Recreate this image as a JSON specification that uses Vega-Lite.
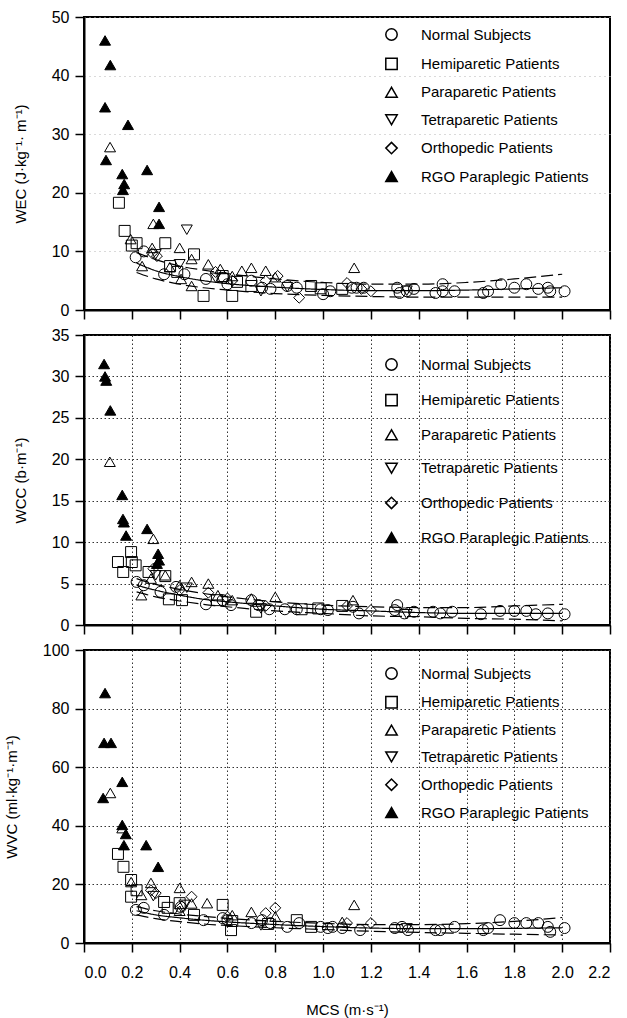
{
  "$schema": "https://vega.github.io/schema/vega-lite/v6.json",
  "background": "white",
  "padding": {"left": 3, "top": 8, "right": 0, "bottom": 0},
  "spacing": 25,
  "bounds": "flush",
  "config": {
    "font": "Liberation Sans",
    "view": {"stroke": "black", "strokeWidth": 2},
    "axis": {
      "domainColor": "black", "domainWidth": 2,
      "tickColor": "black", "tickWidth": 1.5, "tickSize": 9,
      "labelFont": "Liberation Sans", "labelFontSize": 16, "labelColor": "black", "labelPadding": 6,
      "titleFont": "Liberation Sans", "titleFontSize": 15, "titleFontWeight": "normal", "titleColor": "black", "titlePadding": 23
    },
    "legend": {
      "labelFont": "Liberation Sans", "labelFontSize": 15, "labelColor": "black", "labelLimit": 300
    }
  },
  "datasets": {
    "points": [
      {"p":"WEC","g":"R","x":0.088,"y":46},{"p":"WEC","g":"R","x":0.11,"y":41.8},{"p":"WEC","g":"R","x":0.088,"y":34.6},{"p":"WEC","g":"R","x":0.092,"y":25.6},{"p":"WEC","g":"R","x":0.184,"y":31.6},{"p":"WEC","g":"R","x":0.16,"y":23.2},{"p":"WEC","g":"R","x":0.168,"y":21.5},{"p":"WEC","g":"R","x":0.163,"y":20.5},{"p":"WEC","g":"R","x":0.264,"y":23.9},{"p":"WEC","g":"R","x":0.314,"y":17.6},{"p":"WEC","g":"R","x":0.314,"y":14.7},
      {"p":"WEC","g":"Pa","x":0.109,"y":27.8},{"p":"WEC","g":"Pa","x":0.29,"y":14.7},{"p":"WEC","g":"Pa","x":0.40,"y":10.6},{"p":"WEC","g":"Pa","x":1.13,"y":7.2},{"p":"WEC","g":"Pa","x":0.195,"y":12.1},{"p":"WEC","g":"Pa","x":0.285,"y":10.6},{"p":"WEC","g":"Pa","x":0.243,"y":7.5},{"p":"WEC","g":"Pa","x":0.359,"y":7.3},{"p":"WEC","g":"Pa","x":0.45,"y":8.7},{"p":"WEC","g":"Pa","x":0.52,"y":7.8},{"p":"WEC","g":"Pa","x":0.406,"y":5.3},{"p":"WEC","g":"Pa","x":0.45,"y":4.1},{"p":"WEC","g":"Pa","x":0.57,"y":7.0},{"p":"WEC","g":"Pa","x":0.66,"y":6.7},{"p":"WEC","g":"Pa","x":0.70,"y":7.2},{"p":"WEC","g":"Pa","x":0.76,"y":6.7},{"p":"WEC","g":"Pa","x":0.80,"y":5.6},{"p":"WEC","g":"Pa","x":0.62,"y":5.8},
      {"p":"WEC","g":"T","x":0.43,"y":13.7},{"p":"WEC","g":"T","x":0.40,"y":7.8},{"p":"WEC","g":"T","x":0.74,"y":3.2},{"p":"WEC","g":"T","x":0.30,"y":9.5},{"p":"WEC","g":"T","x":0.55,"y":5.5},{"p":"WEC","g":"T","x":0.85,"y":3.9},{"p":"WEC","g":"T","x":1.35,"y":3.3},
      {"p":"WEC","g":"H","x":0.146,"y":18.3},{"p":"WEC","g":"H","x":0.17,"y":13.5},{"p":"WEC","g":"H","x":0.22,"y":11.4},{"p":"WEC","g":"H","x":0.34,"y":11.4},{"p":"WEC","g":"H","x":0.46,"y":9.5},{"p":"WEC","g":"H","x":0.20,"y":11.0},{"p":"WEC","g":"H","x":0.50,"y":2.4},{"p":"WEC","g":"H","x":0.62,"y":2.4},{"p":"WEC","g":"H","x":0.36,"y":7.5},{"p":"WEC","g":"H","x":0.58,"y":5.8},{"p":"WEC","g":"H","x":0.70,"y":4.1},{"p":"WEC","g":"H","x":0.95,"y":4.1},{"p":"WEC","g":"H","x":0.99,"y":3.7},{"p":"WEC","g":"H","x":1.08,"y":3.6},{"p":"WEC","g":"H","x":0.39,"y":6.5},{"p":"WEC","g":"H","x":0.64,"y":4.8},
      {"p":"WEC","g":"N","x":0.216,"y":9.0},{"p":"WEC","g":"N","x":0.25,"y":10.0},{"p":"WEC","g":"N","x":0.335,"y":6.1},{"p":"WEC","g":"N","x":0.42,"y":6.1},{"p":"WEC","g":"N","x":0.51,"y":5.3},{"p":"WEC","g":"N","x":0.585,"y":5.5},{"p":"WEC","g":"N","x":0.60,"y":4.4},{"p":"WEC","g":"N","x":0.70,"y":5.0},{"p":"WEC","g":"N","x":0.745,"y":3.8},{"p":"WEC","g":"N","x":0.78,"y":3.6},{"p":"WEC","g":"N","x":0.85,"y":4.1},{"p":"WEC","g":"N","x":0.89,"y":3.8},{"p":"WEC","g":"N","x":1.0,"y":2.7},{"p":"WEC","g":"N","x":1.03,"y":3.2},{"p":"WEC","g":"N","x":1.12,"y":3.8},{"p":"WEC","g":"N","x":1.14,"y":3.8},{"p":"WEC","g":"N","x":1.17,"y":3.8},{"p":"WEC","g":"N","x":1.31,"y":3.8},{"p":"WEC","g":"N","x":1.32,"y":2.9},{"p":"WEC","g":"N","x":1.35,"y":3.2},{"p":"WEC","g":"N","x":1.38,"y":3.6},{"p":"WEC","g":"N","x":1.47,"y":2.9},{"p":"WEC","g":"N","x":1.50,"y":4.4},{"p":"WEC","g":"N","x":1.50,"y":3.2},{"p":"WEC","g":"N","x":1.55,"y":3.2},{"p":"WEC","g":"N","x":1.67,"y":2.9},{"p":"WEC","g":"N","x":1.69,"y":3.2},{"p":"WEC","g":"N","x":1.745,"y":4.4},{"p":"WEC","g":"N","x":1.80,"y":3.8},{"p":"WEC","g":"N","x":1.85,"y":4.4},{"p":"WEC","g":"N","x":1.90,"y":3.6},{"p":"WEC","g":"N","x":1.94,"y":3.8},{"p":"WEC","g":"N","x":1.95,"y":3.2},{"p":"WEC","g":"N","x":2.01,"y":3.2},
      {"p":"WEC","g":"O","x":0.285,"y":9.7},{"p":"WEC","g":"O","x":0.305,"y":9.2},{"p":"WEC","g":"O","x":0.76,"y":5.0},{"p":"WEC","g":"O","x":0.81,"y":5.8},{"p":"WEC","g":"O","x":0.90,"y":2.1},{"p":"WEC","g":"O","x":1.10,"y":4.6},{"p":"WEC","g":"O","x":1.20,"y":3.2},{"p":"WEC","g":"O","x":1.16,"y":3.6},{"p":"WEC","g":"O","x":0.55,"y":6.5},{"p":"WEC","g":"O","x":0.62,"y":5.0},

      {"p":"WCC","g":"R","x":0.084,"y":31.5},{"p":"WCC","g":"R","x":0.088,"y":30.0},{"p":"WCC","g":"R","x":0.093,"y":29.5},{"p":"WCC","g":"R","x":0.11,"y":25.9},{"p":"WCC","g":"R","x":0.16,"y":15.7},{"p":"WCC","g":"R","x":0.163,"y":12.8},{"p":"WCC","g":"R","x":0.167,"y":12.4},{"p":"WCC","g":"R","x":0.176,"y":10.8},{"p":"WCC","g":"R","x":0.264,"y":11.6},{"p":"WCC","g":"R","x":0.31,"y":8.6},{"p":"WCC","g":"R","x":0.314,"y":7.8},{"p":"WCC","g":"R","x":0.305,"y":7.4},
      {"p":"WCC","g":"Pa","x":0.108,"y":19.7},{"p":"WCC","g":"Pa","x":0.29,"y":10.4},{"p":"WCC","g":"Pa","x":0.24,"y":3.6},{"p":"WCC","g":"Pa","x":0.45,"y":5.2},{"p":"WCC","g":"Pa","x":0.52,"y":5.0},{"p":"WCC","g":"Pa","x":0.40,"y":4.8},{"p":"WCC","g":"Pa","x":0.80,"y":3.4},{"p":"WCC","g":"Pa","x":1.125,"y":3.0},{"p":"WCC","g":"Pa","x":0.62,"y":3.0},{"p":"WCC","g":"Pa","x":0.34,"y":6.0},{"p":"WCC","g":"Pa","x":0.28,"y":5.6},{"p":"WCC","g":"Pa","x":0.70,"y":3.2},{"p":"WCC","g":"Pa","x":0.56,"y":3.6},
      {"p":"WCC","g":"H","x":0.142,"y":7.6},{"p":"WCC","g":"H","x":0.164,"y":6.4},{"p":"WCC","g":"H","x":0.197,"y":8.8},{"p":"WCC","g":"H","x":0.216,"y":7.2},{"p":"WCC","g":"H","x":0.27,"y":6.4},{"p":"WCC","g":"H","x":0.34,"y":5.9},{"p":"WCC","g":"H","x":0.355,"y":3.1},{"p":"WCC","g":"H","x":0.41,"y":3.0},{"p":"WCC","g":"H","x":0.556,"y":3.0},{"p":"WCC","g":"H","x":0.72,"y":1.6},{"p":"WCC","g":"H","x":0.91,"y":1.9},{"p":"WCC","g":"H","x":0.98,"y":2.0},{"p":"WCC","g":"H","x":1.08,"y":2.3},{"p":"WCC","g":"H","x":0.20,"y":7.6},
      {"p":"WCC","g":"N","x":0.22,"y":5.2},{"p":"WCC","g":"N","x":0.32,"y":4.0},{"p":"WCC","g":"N","x":0.385,"y":4.6},{"p":"WCC","g":"N","x":0.51,"y":2.5},{"p":"WCC","g":"N","x":0.58,"y":3.0},{"p":"WCC","g":"N","x":0.615,"y":2.4},{"p":"WCC","g":"N","x":0.70,"y":3.0},{"p":"WCC","g":"N","x":0.73,"y":2.4},{"p":"WCC","g":"N","x":0.775,"y":1.9},{"p":"WCC","g":"N","x":0.84,"y":1.9},{"p":"WCC","g":"N","x":0.89,"y":1.9},{"p":"WCC","g":"N","x":0.99,"y":1.9},{"p":"WCC","g":"N","x":1.02,"y":1.8},{"p":"WCC","g":"N","x":1.125,"y":2.2},{"p":"WCC","g":"N","x":1.15,"y":1.4},{"p":"WCC","g":"N","x":1.30,"y":1.8},{"p":"WCC","g":"N","x":1.31,"y":2.4},{"p":"WCC","g":"N","x":1.34,"y":1.4},{"p":"WCC","g":"N","x":1.38,"y":1.6},{"p":"WCC","g":"N","x":1.46,"y":1.6},{"p":"WCC","g":"N","x":1.49,"y":1.4},{"p":"WCC","g":"N","x":1.54,"y":1.6},{"p":"WCC","g":"N","x":1.66,"y":1.3},{"p":"WCC","g":"N","x":1.74,"y":1.7},{"p":"WCC","g":"N","x":1.80,"y":1.7},{"p":"WCC","g":"N","x":1.85,"y":1.7},{"p":"WCC","g":"N","x":1.89,"y":1.3},{"p":"WCC","g":"N","x":1.94,"y":1.4},{"p":"WCC","g":"N","x":2.01,"y":1.3},{"p":"WCC","g":"N","x":0.25,"y":4.8},
      {"p":"WCC","g":"O","x":0.29,"y":6.8},{"p":"WCC","g":"O","x":0.52,"y":3.9},{"p":"WCC","g":"O","x":0.60,"y":3.2},{"p":"WCC","g":"O","x":0.76,"y":2.3},{"p":"WCC","g":"O","x":1.10,"y":2.3},{"p":"WCC","g":"O","x":1.20,"y":1.8},{"p":"WCC","g":"O","x":0.40,"y":4.2},
      {"p":"WCC","g":"T","x":0.30,"y":6.0},{"p":"WCC","g":"T","x":0.43,"y":4.5},{"p":"WCC","g":"T","x":0.74,"y":2.0},{"p":"WCC","g":"T","x":1.35,"y":1.3},

      {"p":"WVC","g":"R","x":0.088,"y":85.3},{"p":"WVC","g":"R","x":0.084,"y":68.3},{"p":"WVC","g":"R","x":0.113,"y":68.3},{"p":"WVC","g":"R","x":0.08,"y":49.5},{"p":"WVC","g":"R","x":0.16,"y":55},{"p":"WVC","g":"R","x":0.16,"y":40.3},{"p":"WVC","g":"R","x":0.175,"y":37.2},{"p":"WVC","g":"R","x":0.167,"y":33.4},{"p":"WVC","g":"R","x":0.26,"y":33.4},{"p":"WVC","g":"R","x":0.31,"y":26},
      {"p":"WVC","g":"Pa","x":0.11,"y":51.2},{"p":"WVC","g":"Pa","x":0.16,"y":39.2},{"p":"WVC","g":"Pa","x":0.197,"y":20.8},{"p":"WVC","g":"Pa","x":0.28,"y":20.5},{"p":"WVC","g":"Pa","x":0.24,"y":16.4},{"p":"WVC","g":"Pa","x":0.40,"y":18.8},{"p":"WVC","g":"Pa","x":0.515,"y":13.6},{"p":"WVC","g":"Pa","x":0.70,"y":10.6},{"p":"WVC","g":"Pa","x":0.40,"y":11.0},{"p":"WVC","g":"Pa","x":1.13,"y":13},{"p":"WVC","g":"Pa","x":1.08,"y":7.2},{"p":"WVC","g":"Pa","x":0.45,"y":13.5},{"p":"WVC","g":"Pa","x":0.80,"y":9.0},{"p":"WVC","g":"Pa","x":0.62,"y":9.5},
      {"p":"WVC","g":"H","x":0.142,"y":30.4},{"p":"WVC","g":"H","x":0.165,"y":26},{"p":"WVC","g":"H","x":0.197,"y":21.5},{"p":"WVC","g":"H","x":0.197,"y":15.8},{"p":"WVC","g":"H","x":0.335,"y":14},{"p":"WVC","g":"H","x":0.35,"y":12},{"p":"WVC","g":"H","x":0.40,"y":13.6},{"p":"WVC","g":"H","x":0.46,"y":9.6},{"p":"WVC","g":"H","x":0.58,"y":13},{"p":"WVC","g":"H","x":0.615,"y":4.4},{"p":"WVC","g":"H","x":0.89,"y":7.8},{"p":"WVC","g":"H","x":0.95,"y":5.5},{"p":"WVC","g":"H","x":0.22,"y":18},{"p":"WVC","g":"H","x":0.62,"y":7.5},{"p":"WVC","g":"H","x":0.77,"y":6.5},
      {"p":"WVC","g":"N","x":0.217,"y":11.3},{"p":"WVC","g":"N","x":0.335,"y":9.6},{"p":"WVC","g":"N","x":0.405,"y":12.3},{"p":"WVC","g":"N","x":0.50,"y":7.8},{"p":"WVC","g":"N","x":0.58,"y":8.5},{"p":"WVC","g":"N","x":0.60,"y":7.8},{"p":"WVC","g":"N","x":0.70,"y":6.8},{"p":"WVC","g":"N","x":0.745,"y":7.8},{"p":"WVC","g":"N","x":0.78,"y":6.8},{"p":"WVC","g":"N","x":0.85,"y":5.5},{"p":"WVC","g":"N","x":0.90,"y":6.8},{"p":"WVC","g":"N","x":0.99,"y":5.5},{"p":"WVC","g":"N","x":1.04,"y":5.5},{"p":"WVC","g":"N","x":1.02,"y":5.1},{"p":"WVC","g":"N","x":1.08,"y":5.1},{"p":"WVC","g":"N","x":1.155,"y":4.4},{"p":"WVC","g":"N","x":1.30,"y":5.1},{"p":"WVC","g":"N","x":1.33,"y":5.5},{"p":"WVC","g":"N","x":1.355,"y":4.4},{"p":"WVC","g":"N","x":1.47,"y":4.4},{"p":"WVC","g":"N","x":1.49,"y":4.4},{"p":"WVC","g":"N","x":1.55,"y":5.5},{"p":"WVC","g":"N","x":1.67,"y":4.4},{"p":"WVC","g":"N","x":1.69,"y":5.1},{"p":"WVC","g":"N","x":1.74,"y":7.8},{"p":"WVC","g":"N","x":1.80,"y":6.8},{"p":"WVC","g":"N","x":1.85,"y":6.8},{"p":"WVC","g":"N","x":1.90,"y":6.8},{"p":"WVC","g":"N","x":1.94,"y":5.5},{"p":"WVC","g":"N","x":1.95,"y":3.8},{"p":"WVC","g":"N","x":2.01,"y":5.1},{"p":"WVC","g":"N","x":0.25,"y":12},
      {"p":"WVC","g":"O","x":0.28,"y":18},{"p":"WVC","g":"O","x":0.30,"y":17},{"p":"WVC","g":"O","x":0.45,"y":15.8},{"p":"WVC","g":"O","x":0.76,"y":10.2},{"p":"WVC","g":"O","x":0.80,"y":12},{"p":"WVC","g":"O","x":1.20,"y":6.8},{"p":"WVC","g":"O","x":1.10,"y":6.8},{"p":"WVC","g":"O","x":0.60,"y":9},{"p":"WVC","g":"O","x":0.41,"y":12.5},
      {"p":"WVC","g":"T","x":0.29,"y":16},{"p":"WVC","g":"T","x":0.42,"y":13},{"p":"WVC","g":"T","x":0.74,"y":6},{"p":"WVC","g":"T","x":1.35,"y":5}
    ],
    "curves": [
      {"p":"WEC","c":"fit","x":0.22,"y":8.0},{"p":"WEC","c":"fit","x":0.3,"y":6.7},{"p":"WEC","c":"fit","x":0.4,"y":5.7},{"p":"WEC","c":"fit","x":0.5,"y":5.0},{"p":"WEC","c":"fit","x":0.6,"y":4.5},{"p":"WEC","c":"fit","x":0.8,"y":3.9},{"p":"WEC","c":"fit","x":1.0,"y":3.5},{"p":"WEC","c":"fit","x":1.2,"y":3.3},{"p":"WEC","c":"fit","x":1.4,"y":3.3},{"p":"WEC","c":"fit","x":1.6,"y":3.4},{"p":"WEC","c":"fit","x":1.8,"y":3.6},{"p":"WEC","c":"fit","x":2.0,"y":3.8},
      {"p":"WEC","c":"upper","x":0.22,"y":9.8},{"p":"WEC","c":"upper","x":0.3,"y":8.6},{"p":"WEC","c":"upper","x":0.4,"y":7.5},{"p":"WEC","c":"upper","x":0.5,"y":6.8},{"p":"WEC","c":"upper","x":0.6,"y":6.2},{"p":"WEC","c":"upper","x":0.8,"y":5.3},{"p":"WEC","c":"upper","x":1.0,"y":4.7},{"p":"WEC","c":"upper","x":1.2,"y":4.4},{"p":"WEC","c":"upper","x":1.4,"y":4.4},{"p":"WEC","c":"upper","x":1.6,"y":4.7},{"p":"WEC","c":"upper","x":1.8,"y":5.3},{"p":"WEC","c":"upper","x":2.0,"y":6.1},
      {"p":"WEC","c":"lower","x":0.22,"y":6.4},{"p":"WEC","c":"lower","x":0.3,"y":5.3},{"p":"WEC","c":"lower","x":0.4,"y":4.4},{"p":"WEC","c":"lower","x":0.5,"y":3.8},{"p":"WEC","c":"lower","x":0.6,"y":3.4},{"p":"WEC","c":"lower","x":0.8,"y":2.8},{"p":"WEC","c":"lower","x":1.0,"y":2.5},{"p":"WEC","c":"lower","x":1.2,"y":2.3},{"p":"WEC","c":"lower","x":1.4,"y":2.2},{"p":"WEC","c":"lower","x":1.6,"y":2.2},{"p":"WEC","c":"lower","x":1.8,"y":2.2},{"p":"WEC","c":"lower","x":2.0,"y":2.2},
      {"p":"WCC","c":"fit","x":0.22,"y":4.8},{"p":"WCC","c":"fit","x":0.3,"y":4.2},{"p":"WCC","c":"fit","x":0.4,"y":3.6},{"p":"WCC","c":"fit","x":0.5,"y":3.1},{"p":"WCC","c":"fit","x":0.6,"y":2.8},{"p":"WCC","c":"fit","x":0.8,"y":2.3},{"p":"WCC","c":"fit","x":1.0,"y":1.9},{"p":"WCC","c":"fit","x":1.2,"y":1.7},{"p":"WCC","c":"fit","x":1.4,"y":1.5},{"p":"WCC","c":"fit","x":1.6,"y":1.4},{"p":"WCC","c":"fit","x":1.8,"y":1.4},{"p":"WCC","c":"fit","x":2.0,"y":1.4},
      {"p":"WCC","c":"upper","x":0.22,"y":5.6},{"p":"WCC","c":"upper","x":0.3,"y":4.9},{"p":"WCC","c":"upper","x":0.4,"y":4.3},{"p":"WCC","c":"upper","x":0.5,"y":3.8},{"p":"WCC","c":"upper","x":0.6,"y":3.4},{"p":"WCC","c":"upper","x":0.8,"y":2.8},{"p":"WCC","c":"upper","x":1.0,"y":2.4},{"p":"WCC","c":"upper","x":1.2,"y":2.2},{"p":"WCC","c":"upper","x":1.4,"y":2.1},{"p":"WCC","c":"upper","x":1.6,"y":2.1},{"p":"WCC","c":"upper","x":1.8,"y":2.3},{"p":"WCC","c":"upper","x":2.0,"y":2.5},
      {"p":"WCC","c":"lower","x":0.22,"y":4.0},{"p":"WCC","c":"lower","x":0.3,"y":3.4},{"p":"WCC","c":"lower","x":0.4,"y":2.9},{"p":"WCC","c":"lower","x":0.5,"y":2.5},{"p":"WCC","c":"lower","x":0.6,"y":2.2},{"p":"WCC","c":"lower","x":0.8,"y":1.7},{"p":"WCC","c":"lower","x":1.0,"y":1.4},{"p":"WCC","c":"lower","x":1.2,"y":1.1},{"p":"WCC","c":"lower","x":1.4,"y":1.0},{"p":"WCC","c":"lower","x":1.6,"y":0.8},{"p":"WCC","c":"lower","x":1.8,"y":0.7},{"p":"WCC","c":"lower","x":2.0,"y":0.5},
      {"p":"WVC","c":"fit","x":0.22,"y":11.0},{"p":"WVC","c":"fit","x":0.3,"y":9.6},{"p":"WVC","c":"fit","x":0.4,"y":8.6},{"p":"WVC","c":"fit","x":0.5,"y":7.8},{"p":"WVC","c":"fit","x":0.6,"y":7.2},{"p":"WVC","c":"fit","x":0.8,"y":6.3},{"p":"WVC","c":"fit","x":1.0,"y":5.6},{"p":"WVC","c":"fit","x":1.2,"y":5.1},{"p":"WVC","c":"fit","x":1.4,"y":4.9},{"p":"WVC","c":"fit","x":1.6,"y":4.9},{"p":"WVC","c":"fit","x":1.8,"y":5.0},{"p":"WVC","c":"fit","x":2.0,"y":5.2},
      {"p":"WVC","c":"upper","x":0.22,"y":12.4},{"p":"WVC","c":"upper","x":0.3,"y":11.0},{"p":"WVC","c":"upper","x":0.4,"y":9.9},{"p":"WVC","c":"upper","x":0.5,"y":9.1},{"p":"WVC","c":"upper","x":0.6,"y":8.4},{"p":"WVC","c":"upper","x":0.8,"y":7.4},{"p":"WVC","c":"upper","x":1.0,"y":6.7},{"p":"WVC","c":"upper","x":1.2,"y":6.3},{"p":"WVC","c":"upper","x":1.4,"y":6.3},{"p":"WVC","c":"upper","x":1.6,"y":6.6},{"p":"WVC","c":"upper","x":1.8,"y":7.4},{"p":"WVC","c":"upper","x":2.0,"y":8.7},
      {"p":"WVC","c":"lower","x":0.22,"y":9.6},{"p":"WVC","c":"lower","x":0.3,"y":8.3},{"p":"WVC","c":"lower","x":0.4,"y":7.3},{"p":"WVC","c":"lower","x":0.5,"y":6.5},{"p":"WVC","c":"lower","x":0.6,"y":6.0},{"p":"WVC","c":"lower","x":0.8,"y":5.2},{"p":"WVC","c":"lower","x":1.0,"y":4.6},{"p":"WVC","c":"lower","x":1.2,"y":4.0},{"p":"WVC","c":"lower","x":1.4,"y":3.6},{"p":"WVC","c":"lower","x":1.6,"y":3.3},{"p":"WVC","c":"lower","x":1.8,"y":3.0},{"p":"WVC","c":"lower","x":2.0,"y":2.7}
    ]
  },
  "vconcat": [
    {
      "width": 526, "height": 293,
      "encoding": {
        "x": {"field": "x", "type": "quantitative", "scale": {"domain": [0, 2.2], "nice": false, "zero": false},
              "axis": {"values": [0,0.2,0.4,0.6,0.8,1.0,1.2,1.4,1.6,1.8,2.0,2.2], "labels": false, "grid": false, "title": null}},
        "y": {"field": "y", "type": "quantitative", "scale": {"domain": [0, 50], "nice": false},
              "axis": {"values": [0,10,20,30,40,50], "format": "d", "grid": true, "gridColor": "#b5b5b5", "gridDash": [1,4], "gridWidth": 1, "title": "WEC (J·kg⁻¹· m⁻¹)"}}
      },
      "layer": [
        {
          "data": {"name": "curves"},
          "transform": [{"filter": "datum.p === 'WEC'"}],
          "mark": {"type": "line", "stroke": "black", "strokeWidth": 1.2, "interpolate": "monotone"},
          "encoding": {
            "strokeDash": {"field": "c", "type": "nominal", "scale": {"domain": ["fit","upper","lower"], "range": [[1,0],[12,5],[12,5]]}, "legend": null},
            "order": {"field": "x", "type": "quantitative"}
          }
        },
        {
          "data": {"name": "points"},
          "transform": [{"filter": "datum.p === 'WEC'"}],
          "mark": {"type": "point", "filled": true, "stroke": "black", "strokeWidth": 1, "size": 120, "opacity": 1},
          "encoding": {
            "shape": {"field": "g", "type": "nominal",
              "scale": {"domain": ["N","H","Pa","T","O","R"], "range": ["circle","square","triangle-up","triangle-down","diamond","triangle-up"]},
              "legend": {"orient": "none", "legendX": 300, "legendY": 10, "title": null, "rowPadding": 10.4, "labelOffset": 22, "symbolSize": 130, "labelFontSize": 15,
                "encode": {"symbols": {"update": {"stroke": {"value": "black"}, "strokeWidth": {"value": 1}}}},
                "labelExpr": "datum.label == 'N' ? 'Normal Subjects' : datum.label == 'H' ? 'Hemiparetic Patients' : datum.label == 'Pa' ? 'Paraparetic Patients' : datum.label == 'T' ? 'Tetraparetic Patients' : datum.label == 'O' ? 'Orthopedic Patients' : 'RGO Paraplegic Patients'"}},
            "fill": {"field": "g", "type": "nominal",
              "scale": {"domain": ["N","H","Pa","T","O","R"], "range": ["transparent","transparent","transparent","transparent","transparent","black"]},
              "legend": {"orient": "none", "legendX": 300, "legendY": 10, "title": null, "rowPadding": 10.4, "labelOffset": 22, "symbolSize": 130, "labelFontSize": 15,
                "encode": {"symbols": {"update": {"stroke": {"value": "black"}, "strokeWidth": {"value": 1}}}},
                "labelExpr": "datum.label == 'N' ? 'Normal Subjects' : datum.label == 'H' ? 'Hemiparetic Patients' : datum.label == 'Pa' ? 'Paraparetic Patients' : datum.label == 'T' ? 'Tetraparetic Patients' : datum.label == 'O' ? 'Orthopedic Patients' : 'RGO Paraplegic Patients'"}}
          }
        }
      ]
    },
    {
      "width": 526, "height": 290,
      "encoding": {
        "x": {"field": "x", "type": "quantitative", "scale": {"domain": [0, 2.2], "nice": false, "zero": false},
              "axis": {"values": [0,0.2,0.4,0.6,0.8,1.0,1.2,1.4,1.6,1.8,2.0,2.2], "labels": false, "grid": true, "gridColor": "#333", "gridDash": [1.5,2.5], "gridWidth": 1, "title": null}},
        "y": {"field": "y", "type": "quantitative", "scale": {"domain": [0, 35], "nice": false},
              "axis": {"values": [0,5,10,15,20,25,30,35], "format": "d", "grid": true, "gridColor": "#333", "gridDash": [1.5,2.5], "gridWidth": 1, "title": "WCC (b·m⁻¹)"}}
      },
      "layer": [
        {
          "data": {"name": "curves"},
          "transform": [{"filter": "datum.p === 'WCC'"}],
          "mark": {"type": "line", "stroke": "black", "strokeWidth": 1.2, "interpolate": "monotone"},
          "encoding": {
            "strokeDash": {"field": "c", "type": "nominal", "scale": {"domain": ["fit","upper","lower"], "range": [[1,0],[12,5],[12,5]]}, "legend": null},
            "order": {"field": "x", "type": "quantitative"}
          }
        },
        {
          "data": {"name": "points"},
          "transform": [{"filter": "datum.p === 'WCC'"}],
          "mark": {"type": "point", "filled": true, "stroke": "black", "strokeWidth": 1, "size": 120, "opacity": 1},
          "encoding": {
            "shape": {"field": "g", "type": "nominal",
              "scale": {"domain": ["N","H","Pa","T","O","R"], "range": ["circle","square","triangle-up","triangle-down","diamond","triangle-up"]},
              "legend": {"orient": "none", "legendX": 300, "legendY": 22, "title": null, "rowPadding": 16.6, "labelOffset": 22, "symbolSize": 130, "labelFontSize": 15,
                "encode": {"symbols": {"update": {"stroke": {"value": "black"}, "strokeWidth": {"value": 1}}}},
                "labelExpr": "datum.label == 'N' ? 'Normal Subjects' : datum.label == 'H' ? 'Hemiparetic Patients' : datum.label == 'Pa' ? 'Paraparetic Patients' : datum.label == 'T' ? 'Tetraparetic Patients' : datum.label == 'O' ? 'Orthopedic Patients' : 'RGO Paraplegic Patients'"}},
            "fill": {"field": "g", "type": "nominal",
              "scale": {"domain": ["N","H","Pa","T","O","R"], "range": ["transparent","transparent","transparent","transparent","transparent","black"]},
              "legend": {"orient": "none", "legendX": 300, "legendY": 22, "title": null, "rowPadding": 16.6, "labelOffset": 22, "symbolSize": 130, "labelFontSize": 15,
                "encode": {"symbols": {"update": {"stroke": {"value": "black"}, "strokeWidth": {"value": 1}}}},
                "labelExpr": "datum.label == 'N' ? 'Normal Subjects' : datum.label == 'H' ? 'Hemiparetic Patients' : datum.label == 'Pa' ? 'Paraparetic Patients' : datum.label == 'T' ? 'Tetraparetic Patients' : datum.label == 'O' ? 'Orthopedic Patients' : 'RGO Paraplegic Patients'"}}
          }
        }
      ]
    },
    {
      "width": 526, "height": 293,
      "encoding": {
        "x": {"field": "x", "type": "quantitative", "scale": {"domain": [0, 2.2], "nice": false, "zero": false},
              "axis": {"values": [0,0.2,0.4,0.6,0.8,1.0,1.2,1.4,1.6,1.8,2.0,2.2], "format": ".1f", "labelPadding": 12, "titlePadding": 22, "grid": true, "gridColor": "#333", "gridDash": [1.5,2.5], "gridWidth": 1, "title": "MCS (m·s⁻¹)"}},
        "y": {"field": "y", "type": "quantitative", "scale": {"domain": [0, 100], "nice": false},
              "axis": {"values": [0,20,40,60,80,100], "format": "d", "grid": true, "gridColor": "#333", "gridDash": [1.5,2.5], "gridWidth": 1, "title": "WVC (ml·kg⁻¹·m⁻¹)"}}
      },
      "layer": [
        {
          "data": {"name": "curves"},
          "transform": [{"filter": "datum.p === 'WVC'"}],
          "mark": {"type": "line", "stroke": "black", "strokeWidth": 1.2, "interpolate": "monotone"},
          "encoding": {
            "strokeDash": {"field": "c", "type": "nominal", "scale": {"domain": ["fit","upper","lower"], "range": [[1,0],[12,5],[12,5]]}, "legend": null},
            "order": {"field": "x", "type": "quantitative"}
          }
        },
        {
          "data": {"name": "points"},
          "transform": [{"filter": "datum.p === 'WVC'"}],
          "mark": {"type": "point", "filled": true, "stroke": "black", "strokeWidth": 1, "size": 120, "opacity": 1},
          "encoding": {
            "shape": {"field": "g", "type": "nominal",
              "scale": {"domain": ["N","H","Pa","T","O","R"], "range": ["circle","square","triangle-up","triangle-down","diamond","triangle-up"]},
              "legend": {"orient": "none", "legendX": 300, "legendY": 16, "title": null, "rowPadding": 9.8, "labelOffset": 22, "symbolSize": 130, "labelFontSize": 15,
                "encode": {"symbols": {"update": {"stroke": {"value": "black"}, "strokeWidth": {"value": 1}}}},
                "labelExpr": "datum.label == 'N' ? 'Normal Subjects' : datum.label == 'H' ? 'Hemiparetic Patients' : datum.label == 'Pa' ? 'Paraparetic Patients' : datum.label == 'T' ? 'Tetraparetic Patients' : datum.label == 'O' ? 'Orthopedic Patients' : 'RGO Paraplegic Patients'"}},
            "fill": {"field": "g", "type": "nominal",
              "scale": {"domain": ["N","H","Pa","T","O","R"], "range": ["transparent","transparent","transparent","transparent","transparent","black"]},
              "legend": {"orient": "none", "legendX": 300, "legendY": 16, "title": null, "rowPadding": 9.8, "labelOffset": 22, "symbolSize": 130, "labelFontSize": 15,
                "encode": {"symbols": {"update": {"stroke": {"value": "black"}, "strokeWidth": {"value": 1}}}},
                "labelExpr": "datum.label == 'N' ? 'Normal Subjects' : datum.label == 'H' ? 'Hemiparetic Patients' : datum.label == 'Pa' ? 'Paraparetic Patients' : datum.label == 'T' ? 'Tetraparetic Patients' : datum.label == 'O' ? 'Orthopedic Patients' : 'RGO Paraplegic Patients'"}}
          }
        }
      ]
    }
  ],
  "resolve": {
    "scale": {"x": "shared", "y": "independent", "shape": "independent", "fill": "independent", "strokeDash": "independent"},
    "legend": {"shape": "independent", "fill": "independent"}
  }
}
